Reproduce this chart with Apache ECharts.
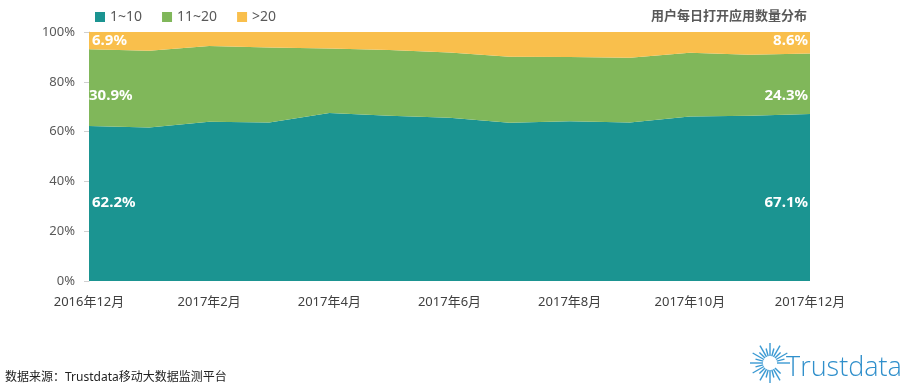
<!DOCTYPE html>
<html><head><meta charset="utf-8">
<script src="https://cdn.jsdelivr.net/npm/echarts@6/dist/echarts.min.js"></script>
<style>html,body{margin:0;padding:0;background:#fff}#c{width:900px;height:392px}</style>
</head><body><div id="c"></div>
<script>
const months = ['2016年12月','2017年1月','2017年2月','2017年3月','2017年4月','2017年5月','2017年6月','2017年7月','2017年8月','2017年9月','2017年10月','2017年11月','2017年12月'];
const s1to10 = [62.2, 61.6, 64.0, 63.7, 67.5, 66.4, 65.6, 63.6, 64.2, 63.7, 66.1, 66.4, 67.1];
const s11to20 = [30.9, 30.9, 30.4, 30.1, 25.9, 26.4, 26.2, 26.5, 25.8, 26.0, 25.6, 24.5, 24.3];
const sOver20 = [6.9, 7.5, 5.6, 6.2, 6.6, 7.2, 8.2, 9.9, 10.0, 10.3, 8.3, 9.1, 8.6];
const seriesNames = ['1~10', '11~20', '>20'];
const yTicks = [0, 20, 40, 60, 80, 100];

const FONT = "'Noto Sans','Noto Sans CJK SC',sans-serif";
const colors = ['#1b9491', '#80b75a', '#f9bf4c'];
const labelAnchor = [31.3, 74.6, 96.6];
const data = [s1to10, s11to20, sOver20];
const last = months.length - 1;

const chart = echarts.init(document.getElementById('c'));
const series = data.map((arr, i) => ({
  name: seriesNames[i],
  type: 'line',
  stack: 'total',
  symbol: 'none',
  lineStyle: { width: 0 },
  areaStyle: { color: colors[i], opacity: 1 },
  itemStyle: { color: colors[i] },
  emphasis: { disabled: true },
  markPoint: {
    symbol: 'circle', symbolSize: 0, silent: true,
    data: [
      { coord: [0, labelAnchor[i]], value: arr[0].toFixed(1) + '%',
        label: { position: 'right', distance: i === 1 ? 0 : 3 } },
      { coord: [last, labelAnchor[i]], value: arr[last].toFixed(1) + '%',
        label: { position: 'left', distance: 2 } }
    ],
    label: { show: true, color: '#fff', fontSize: 15, fontWeight: 'bold', fontFamily: FONT, formatter: p => p.value }
  },
  data: arr
}));

const rays = [];
const cx = 770, cy = 363;
for (let k = 0; k < 24; k++) {
  const a = (k / 24) * Math.PI * 2;
  if (a > 0.1 && a < 0.75) continue;
  const r1 = 7, r2 = (k % 2 === 0) ? 20 : 15;
  rays.push({ type: 'line', shape: { x1: cx + r1 * Math.cos(a), y1: cy + r1 * Math.sin(a), x2: cx + r2 * Math.cos(a), y2: cy + r2 * Math.sin(a) },
    style: { stroke: '#3b9ad3', lineWidth: 1.4 } });
}

chart.setOption({
  animation: false,
  color: colors,
  title: { text: '用户每日打开应用数量分布', right: 88, top: 5,
    textStyle: { fontSize: 13, fontWeight: 'bold', color: '#595959', fontFamily: FONT } },
  legend: { left: 90, top: 5, itemWidth: 10, itemHeight: 10, icon: 'rect', itemGap: 20,
    textStyle: { fontSize: 14, color: '#595959', fontFamily: FONT }, data: seriesNames },
  grid: { left: 89, right: 90, top: 32, bottom: 111 },
  xAxis: { type: 'category', boundaryGap: false, data: months,
    axisLine: { show: false }, axisTick: { show: false },
    axisLabel: { interval: 1, color: '#404040', fontSize: 13, margin: 15, fontFamily: FONT } },
  yAxis: { type: 'value', min: 0, max: 100, interval: 20,
    axisLine: { show: true, lineStyle: { color: '#d0d0d0' } },
    axisTick: { show: true, length: 5, lineStyle: { color: '#d0d0d0' } },
    splitLine: { show: false },
    axisLabel: { color: '#595959', fontSize: 13, margin: 14, fontFamily: FONT,
      formatter: v => yTicks.includes(v) ? v + '%' : '' } },
  series: series,
  graphic: [
    { type: 'text', left: 5, top: 372, style: { text: '数据来源：Trustdata移动大数据监测平台', fontSize: 12, fill: '#222', fontFamily: FONT } },
    { type: 'text', left: 786, top: 355, style: { text: 'Trustdata', fontSize: 27, fill: '#2f8fcb', fontFamily: "'Open Sans',sans-serif", fontWeight: 300 } },
    { type: 'group', children: rays }
  ]
});
</script></body></html>
